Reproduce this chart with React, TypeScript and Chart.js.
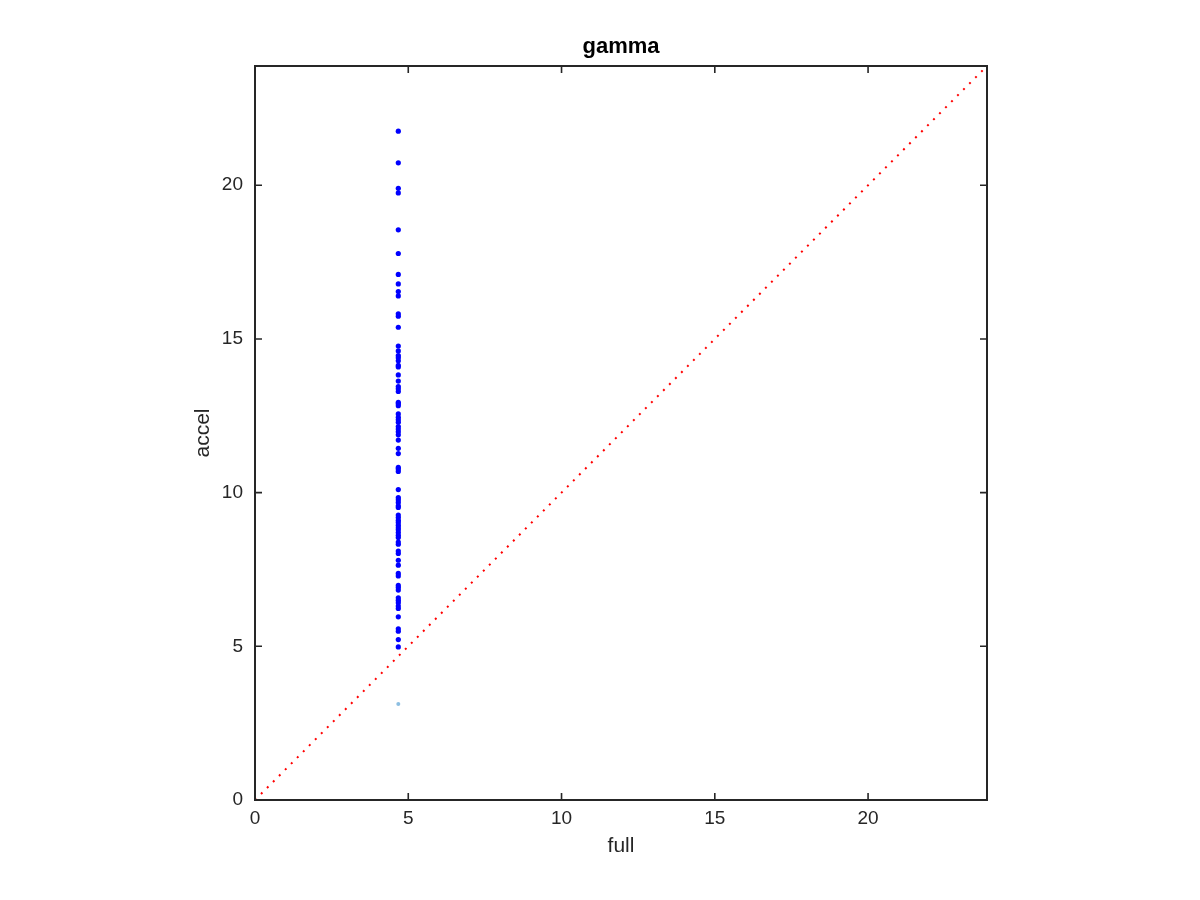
import React, { useEffect, useRef } from "react";
import { Chart, registerables } from "chart.js";

Chart.register(...registerables);

const TITLE = "gamma";
const X_LABEL = "full";
const Y_LABEL = "accel";
const AXIS_MIN = 0;
const AXIS_MAX = 23.88;
const TICK_VALUES = [0, 5, 10, 15, 20];

const FULL_X = 4.675;
const ACCEL_VALUES = [
  21.76, 20.73, 19.9, 19.75, 18.55, 17.78, 17.1, 16.79, 16.54, 16.4,
  15.82, 15.74, 15.38, 14.77, 14.61, 14.46, 14.39, 14.29, 14.14, 14.09,
  13.83, 13.63, 13.45, 13.38, 13.29, 12.94, 12.89, 12.83, 12.56, 12.45,
  12.37, 12.29, 12.15, 12.07, 11.98, 11.88, 11.71, 11.44, 11.27, 10.82,
  10.77, 10.69, 10.1, 9.84, 9.77, 9.68, 9.57, 9.52, 9.27, 9.19,
  9.1, 9.03, 8.94, 8.86, 8.79, 8.7, 8.61, 8.54, 8.39, 8.32,
  8.1, 8.02, 7.8, 7.64, 7.37, 7.29, 6.98, 6.91, 6.83, 6.58,
  6.5, 6.42, 6.31, 6.23, 5.96, 5.57, 5.49, 5.22, 4.98,
];
const OUTLIER_X = [4.675];
const OUTLIER_Y = [3.12];
const DIAG = [0, 24];

const AXIS_COLOR = "#262626";
const FONT = "'Liberation Sans', Arial, Helvetica, sans-serif";

const boxPlugin = {
  id: "matlabBox",
  afterDraw(chart: any) {
    const { ctx, chartArea } = chart;
    const xs = chart.scales.x;
    const ys = chart.scales.y;
    const { left, right, top, bottom } = chartArea;
    const tl = 7;
    ctx.save();
    ctx.strokeStyle = AXIS_COLOR;
    ctx.lineWidth = 2;
    ctx.beginPath();
    ctx.rect(left, top, right - left, bottom - top);
    ctx.stroke();
    ctx.lineWidth = 1.6;
    ctx.beginPath();
    for (const v of TICK_VALUES) {
      const px = xs.getPixelForValue(v);
      ctx.moveTo(px, bottom);
      ctx.lineTo(px, bottom - tl);
      ctx.moveTo(px, top);
      ctx.lineTo(px, top + tl);
      const py = ys.getPixelForValue(v);
      ctx.moveTo(left, py);
      ctx.lineTo(left + tl, py);
      ctx.moveTo(right, py);
      ctx.lineTo(right - tl, py);
    }
    ctx.stroke();
    ctx.restore();
  },
};

export default function App() {
  const ref = useRef<HTMLCanvasElement | null>(null);

  useEffect(() => {
    if (!ref.current) return;
    const chart = new Chart(ref.current, {
      type: "scatter",
      data: {
        datasets: [
          {
            type: "line",
            data: DIAG.map((v) => ({ x: v, y: v })),
            borderColor: "#ff0000",
            borderWidth: 2,
            borderDash: [2, 6.5],
            pointRadius: 0,
            fill: false,
          } as any,
          {
            data: OUTLIER_X.map((x, i) => ({ x, y: OUTLIER_Y[i] })),
            backgroundColor: "rgb(140,190,225)",
            borderWidth: 0,
            pointRadius: 2,
          },
          {
            data: ACCEL_VALUES.map((y) => ({ x: FULL_X, y })),
            backgroundColor: "#0000ff",
            borderWidth: 0,
            pointRadius: 2.6,
          },
        ],
      },
      options: {
        responsive: false,
        animation: false,
        layout: { padding: { left: 0, right: 213, top: 0, bottom: 0 } },
        plugins: {
          legend: { display: false },
          tooltip: { enabled: false },
          title: {
            display: true,
            text: TITLE,
            fullSize: false,
            color: "#000000",
            font: { family: FONT, size: 22, weight: "bold" },
            padding: { top: 34, bottom: 5.6 },
          },
        },
        scales: {
          x: {
            type: "linear",
            min: AXIS_MIN,
            max: AXIS_MAX,
            grid: { display: false, drawTicks: false },
            border: { display: false },
            ticks: {
              stepSize: 5,
              includeBounds: false,
              color: AXIS_COLOR,
              font: { family: FONT, size: 19 },
              padding: 7,
              maxRotation: 0,
            },
            title: {
              display: true,
              text: X_LABEL,
              color: AXIS_COLOR,
              font: { family: FONT, size: 21 },
              padding: { top: 0, bottom: 41.4 },
            },
            afterFit: (s: any) => {
              s.height = 100;
            },
          },
          y: {
            type: "linear",
            min: AXIS_MIN,
            max: AXIS_MAX,
            grid: { display: false, drawTicks: false },
            border: { display: false },
            ticks: {
              stepSize: 5,
              includeBounds: false,
              color: AXIS_COLOR,
              font: { family: FONT, size: 19 },
              padding: 12,
            },
            title: {
              display: true,
              text: Y_LABEL,
              color: AXIS_COLOR,
              font: { family: FONT, size: 21 },
              padding: { top: 191, bottom: 0 },
            },
            afterFit: (s: any) => {
              s.width = 255;
            },
          },
        },
      },
      plugins: [boxPlugin],
    });
    return () => chart.destroy();
  }, []);

  return (
    <div style={{ position: "fixed", left: 0, top: 0, width: 1200, height: 900, background: "#ffffff" }}>
      <canvas ref={ref} width={1200} height={900} />
    </div>
  );
}
